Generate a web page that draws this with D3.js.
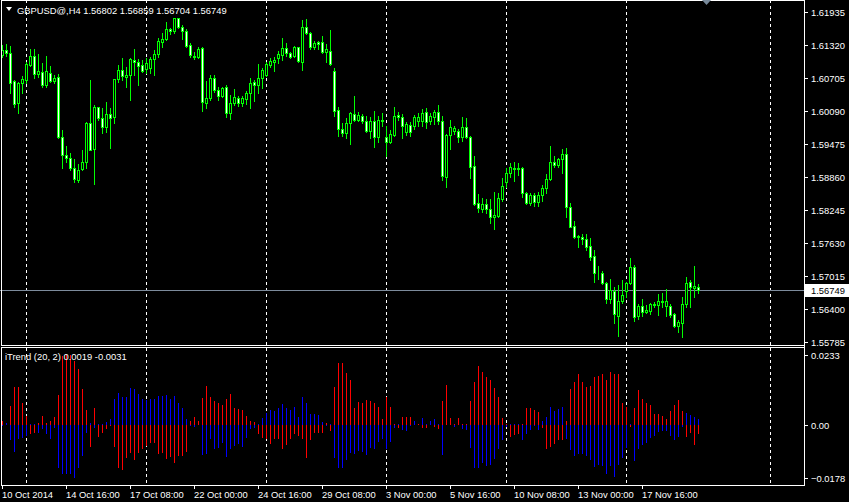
<!DOCTYPE html>
<html><head><meta charset="utf-8">
<script src="https://cdn.jsdelivr.net/npm/d3@7"></script>
<style>
body{margin:0;background:#000;}
svg{display:block;}
text{font-family:"Liberation Sans",Arial,sans-serif;font-size:9.4px;fill:#fff;}
</style>
</head><body><svg id="c" width="849" height="502"></svg>
<script>
// ---- data: GBPUSD H4 candles (bar 0 = 10 Oct 2014 00:00) ----
const openP=[1.61134,1.61227,1.61177,1.60649,1.60233,1.60606,1.60668,1.60947,1.61115,1.60780,
1.60823,1.60575,1.60792,1.60656,1.60718,1.59612,1.59271,1.59209,1.59022,1.58805,
1.59004,1.59146,1.59861,1.59376,1.60159,1.59954,1.59786,1.60035,1.59972,1.60687,
1.60854,1.60730,1.60755,1.61041,1.61009,1.60947,1.60867,1.60885,1.61053,1.61146,
1.61382,1.61426,1.61612,1.61587,1.61817,1.61649,1.61587,1.61320,1.61115,1.61103,
1.61258,1.60246,1.60326,1.60699,1.60482,1.60376,1.60531,1.60047,1.60233,1.60333,
1.60240,1.60314,1.60420,1.60631,1.60581,1.60699,1.60768,1.60954,1.61010,1.61072,
1.61140,1.61264,1.61165,1.61122,1.61277,1.60998,1.61650,1.61544,1.61277,1.61370,
1.61370,1.61184,1.61215,1.60842,1.60110,1.59756,1.59675,1.59861,1.60035,1.59923,
1.59998,1.59898,1.59725,1.59898,1.59613,1.59923,1.59600,1.59520,1.59650,1.60023,
1.59973,1.59693,1.59830,1.59818,1.59898,1.59911,1.60066,1.59898,1.59985,1.60066,
1.59898,1.58868,1.59650,1.59725,1.59712,1.59600,1.59799,1.59613,1.59066,1.58370,
1.58265,1.58351,1.58265,1.58109,1.58134,1.58445,1.58774,1.58929,1.59028,1.59016,
1.59022,1.58569,1.58370,1.58525,1.58401,1.58525,1.58650,1.58817,1.59146,1.59084,
1.59190,1.59289,1.58308,1.57948,1.57761,1.57749,1.57699,1.57575,1.57389,1.57066,
1.57078,1.56892,1.56582,1.56743,1.56271,1.56557,1.56743,1.56892,1.57190,1.56271,
1.56457,1.56352,1.56370,1.56470,1.56482,1.56544,1.56464,1.56457,1.56308,1.56091,
1.56147,1.56488,1.56898,1.56787,1.56802];
const highP=[1.61320,1.61339,1.61301,1.60668,1.60637,1.60742,1.61009,1.61239,1.61239,1.61152,
1.60978,1.61115,1.60929,1.60761,1.60780,1.59736,1.59438,1.59314,1.59190,1.59103,
1.59364,1.59892,1.60668,1.60202,1.60171,1.60140,1.60252,1.60153,1.60693,1.60947,
1.61072,1.60916,1.61072,1.61239,1.61053,1.61041,1.61072,1.61103,1.61227,1.61444,
1.61550,1.61755,1.61630,1.61817,1.61817,1.61693,1.61612,1.61363,1.61196,1.61276,
1.61276,1.60649,1.60761,1.60761,1.60544,1.60544,1.60575,1.60388,1.60494,1.60377,
1.60377,1.60457,1.60706,1.60668,1.60966,1.60886,1.61010,1.61078,1.61103,1.61203,
1.61451,1.61351,1.61184,1.61308,1.61289,1.61786,1.61805,1.61556,1.61401,1.61389,
1.61494,1.61339,1.61600,1.60892,1.60159,1.59861,1.59960,1.60066,1.60377,1.60066,
1.60035,1.60004,1.59985,1.60085,1.60004,1.60047,1.59818,1.59737,1.60159,1.60066,
1.60035,1.59880,1.59880,1.60023,1.60047,1.60128,1.60147,1.60047,1.60110,1.60209,
1.60004,1.59662,1.59923,1.59818,1.59756,1.59985,1.59960,1.59631,1.59252,1.58544,
1.58463,1.58445,1.58445,1.58587,1.58556,1.58836,1.59022,1.59115,1.59146,1.59128,
1.59041,1.58587,1.58556,1.58556,1.58587,1.58712,1.58917,1.59438,1.59252,1.59208,
1.59376,1.59395,1.58370,1.58047,1.57780,1.57799,1.57799,1.57718,1.57501,1.57203,
1.57116,1.56911,1.56954,1.56818,1.56849,1.56942,1.56911,1.57345,1.57221,1.56495,
1.56582,1.56476,1.56507,1.56538,1.56681,1.56706,1.56768,1.56495,1.56321,1.56197,
1.56631,1.57004,1.56942,1.57203,1.56859];
const lowP=[1.61103,1.61115,1.60420,1.60171,1.60059,1.60432,1.60606,1.60929,1.60699,1.60730,
1.60544,1.60544,1.60637,1.60618,1.59581,1.59022,1.59146,1.58991,1.58774,1.58761,
1.58991,1.59022,1.59364,1.58730,1.59923,1.59674,1.59705,1.59395,1.59861,1.60637,
1.60668,1.60544,1.60295,1.60761,1.60575,1.60823,1.60792,1.60792,1.60761,1.61103,
1.61289,1.61413,1.61525,1.61537,1.61630,1.61426,1.61276,1.61103,1.61053,1.61072,
1.60097,1.60140,1.60295,1.60451,1.60295,1.60345,1.59985,1.59935,1.60202,1.60190,
1.60178,1.60221,1.60147,1.60271,1.60426,1.60519,1.60737,1.60904,1.60842,1.60979,
1.61041,1.61122,1.61072,1.61103,1.60998,1.60861,1.61525,1.61246,1.61246,1.61246,
1.61171,1.61010,1.60954,1.60004,1.59631,1.59631,1.59588,1.59476,1.59898,1.59898,
1.59861,1.59693,1.59588,1.59426,1.59520,1.59818,1.59259,1.59489,1.59631,1.59923,
1.59588,1.59650,1.59631,1.59756,1.59818,1.59818,1.59774,1.59849,1.59849,1.59849,
1.58805,1.58669,1.59383,1.59662,1.59507,1.59538,1.59588,1.58843,1.58339,1.58215,
1.58215,1.58196,1.57998,1.57886,1.58109,1.58420,1.58681,1.58867,1.58792,1.58898,
1.58494,1.58358,1.58339,1.58320,1.58320,1.58420,1.58556,1.58805,1.59041,1.59041,
1.58941,1.58109,1.57923,1.57718,1.57563,1.57612,1.57501,1.57314,1.56911,1.56954,
1.56867,1.56520,1.56507,1.56147,1.55899,1.56507,1.56631,1.56867,1.56184,1.56209,
1.56271,1.56333,1.56308,1.56445,1.56296,1.56445,1.56271,1.56259,1.56072,1.55979,
1.55886,1.56445,1.56445,1.56631,1.56704];
const closeP=[1.61227,1.61177,1.60618,1.60215,1.60618,1.60687,1.60966,1.61115,1.60774,1.60836,
1.60575,1.60842,1.60656,1.60699,1.59612,1.59271,1.59209,1.59022,1.58817,1.58991,
1.59146,1.59861,1.59364,1.60171,1.59954,1.59786,1.60028,1.59954,1.60680,1.60854,
1.60742,1.60761,1.61053,1.60997,1.60929,1.60842,1.60991,1.61053,1.61146,1.61394,
1.61426,1.61612,1.61587,1.61817,1.61649,1.61587,1.61308,1.61134,1.61090,1.61252,
1.60264,1.60326,1.60711,1.60482,1.60376,1.60513,1.60047,1.60233,1.60345,1.60234,
1.60333,1.60426,1.60613,1.60581,1.60706,1.60861,1.60966,1.61016,1.61041,1.61153,
1.61264,1.61165,1.61091,1.61289,1.61016,1.61650,1.61544,1.61277,1.61358,1.61339,
1.61184,1.61246,1.60966,1.60097,1.59756,1.59675,1.59861,1.60047,1.59923,1.60010,
1.59898,1.59725,1.59898,1.59600,1.59923,1.59911,1.59520,1.59662,1.60004,1.59973,
1.59818,1.59849,1.59693,1.59973,1.59985,1.60060,1.59880,1.59998,1.60066,1.59898,
1.58886,1.59650,1.59787,1.59768,1.59600,1.59799,1.59613,1.59054,1.58358,1.58277,
1.58351,1.58265,1.58109,1.58147,1.58463,1.58693,1.58929,1.59041,1.59016,1.59028,
1.58569,1.58383,1.58525,1.58401,1.58525,1.58650,1.58817,1.59146,1.59084,1.59190,
1.59289,1.58308,1.57935,1.57749,1.57737,1.57699,1.57563,1.57377,1.57066,1.57078,
1.56892,1.56582,1.56756,1.56302,1.56557,1.56662,1.56892,1.57190,1.56259,1.56457,
1.56352,1.56383,1.56488,1.56495,1.56544,1.56532,1.56544,1.56290,1.56091,1.56166,
1.56488,1.56892,1.56818,1.56830,1.56749];
// iTrend (20,2) histogram buffers
const trendBlue=[-0.0003,0.0007,-0.0052,-0.0091,-0.0047,-0.0046,-0.0038,0.0002,0.0001,-0.0027,
-0.0013,-0.0032,-0.0047,-0.0010,-0.0144,-0.0166,-0.0164,-0.0164,-0.0178,-0.0144,
-0.0105,-0.0027,0.0005,-0.0010,0.0003,0.0003,0.0009,0.0018,0.0085,0.0107,
0.0092,0.0092,0.0124,0.0118,0.0104,0.0085,0.0081,0.0087,0.0087,0.0096,
0.0096,0.0099,0.0085,0.0096,0.0074,0.0057,0.0018,-0.0005,-0.0007,-0.0001,
-0.0102,-0.0099,-0.0049,-0.0080,-0.0077,-0.0060,-0.0108,-0.0080,-0.0071,-0.0066,
-0.0074,-0.0043,-0.0013,-0.0010,0.0003,0.0023,0.0040,0.0048,0.0046,0.0057,
0.0068,0.0055,0.0048,0.0059,0.0026,0.0094,0.0074,0.0035,0.0035,0.0031,
0.0009,-0.0003,0.0002,-0.0110,-0.0144,-0.0144,-0.0118,-0.0094,-0.0097,-0.0088,
-0.0090,-0.0101,-0.0077,-0.0080,-0.0058,-0.0047,-0.0080,-0.0058,-0.0010,0.0002,
-0.0018,-0.0021,-0.0003,0.0012,-0.0002,0.0021,0.0002,0.0012,0.0020,0.0002,
-0.0102,-0.0001,-0.0001,-0.0007,-0.0001,-0.0013,-0.0018,-0.0077,-0.0144,-0.0144,
-0.0127,-0.0138,-0.0136,-0.0116,-0.0080,-0.0051,-0.0007,0.0001,0.0001,0.0004,
-0.0051,-0.0032,-0.0018,-0.0003,-0.0018,0.0014,0.0027,0.0059,0.0046,0.0053,
0.0059,-0.0047,-0.0086,-0.0105,-0.0099,-0.0099,-0.0105,-0.0118,-0.0140,-0.0133,
-0.0138,-0.0166,-0.0138,-0.0175,-0.0136,-0.0112,-0.0077,0.0001,-0.0121,-0.0082,
-0.0069,-0.0062,-0.0043,-0.0038,-0.0025,-0.0021,-0.0021,-0.0036,-0.0051,-0.0040,
-0.0007,0.0038,0.0031,0.0026,0.0019];
const trendRed=[0.0014,-0.0002,0.0062,0.0126,0.0127,0.0074,0.0029,-0.0032,-0.0027,0.0007,
0.0029,0.0007,0.0012,0.0026,0.0098,0.0230,0.0233,0.0232,0.0213,0.0185,
0.0118,0.0049,-0.0074,0.0057,-0.0041,-0.0027,-0.0013,-0.0003,-0.0074,-0.0144,
-0.0151,-0.0110,-0.0094,-0.0118,-0.0094,-0.0082,-0.0071,-0.0062,-0.0060,-0.0099,
-0.0094,-0.0116,-0.0107,-0.0127,-0.0105,-0.0105,-0.0090,0.0012,0.0027,0.0014,
0.0090,0.0131,0.0092,0.0079,0.0074,0.0066,0.0085,0.0104,0.0057,0.0051,
0.0048,0.0029,0.0014,0.0009,-0.0032,-0.0046,-0.0047,-0.0066,-0.0049,-0.0049,
-0.0082,-0.0069,-0.0049,-0.0032,-0.0038,-0.0049,-0.0112,-0.0051,-0.0027,-0.0027,
-0.0027,0.0007,-0.0021,0.0126,0.0205,0.0205,0.0174,0.0151,0.0055,0.0076,
0.0074,0.0081,0.0079,0.0074,0.0059,0.0018,0.0092,0.0059,0.0002,-0.0012,
0.0026,0.0026,0.0026,-0.0002,0.0003,-0.0010,-0.0010,-0.0002,-0.0007,-0.0013,
0.0079,0.0133,0.0021,0.0001,0.0021,0.0001,0.0001,0.0079,0.0144,0.0196,
0.0177,0.0160,0.0148,0.0124,0.0094,0.0021,0.0001,-0.0041,-0.0035,-0.0032,
0.0004,0.0055,0.0055,0.0048,0.0042,-0.0010,-0.0080,-0.0074,-0.0066,-0.0051,
-0.0051,0.0012,0.0118,0.0144,0.0168,0.0144,0.0126,0.0129,0.0160,0.0163,
0.0170,0.0149,0.0176,0.0170,0.0168,0.0074,0.0060,-0.0008,0.0055,0.0115,
0.0085,0.0074,0.0066,0.0035,0.0035,0.0029,0.0018,0.0046,0.0065,0.0081,
0.0046,-0.0040,-0.0027,-0.0068,-0.0031];
const priceTicks=[1.61935,1.61320,1.60705,1.60090,1.59475,1.58860,1.58245,1.57630,1.57015,1.56400,1.55785];
const trendTicks=[0.0233,0.00,-0.0178];
const timeLabelBars=[0,16,32,48,64,80,96,112,128,144,160];
const timeLabels=["10 Oct 2014","14 Oct 16:00","17 Oct 08:00","22 Oct 00:00","24 Oct 16:00","29 Oct 08:00","3 Nov 00:00","5 Nov 16:00","10 Nov 08:00","13 Nov 00:00","17 Nov 16:00"];
const gridBars=[6,36,66,96,126,156,192];
const shiftBar=176;
const symbolTitle="GBPUSD@,H4";
const indTitle="iTrend (20, 2) 0.0019 -0.0031";

// ---- drawing ----
const svg=d3.select("#c");
const W=849,H=502, axisX=804;
const n=openP.length;
const x=d3.scaleLinear().domain([0,1]).range([2,6]);
const y=d3.scaleLinear().domain([1.55785,1.61935]).range([342,12]);
const yi=d3.scaleLinear().domain([-0.0178,0.0233]).range([478,355]);
const mainTop=0, mainBot=345, subTop=347, subBot=485;
const LIME="#00ff00";

svg.append("rect").attr("width",W).attr("height",H).attr("fill","#000");

// grid (dashed verticals)
const g=svg.append("g").attr("shape-rendering","crispEdges");
gridBars.forEach(b=>{
  g.append("line").attr("x1",x(b)+0.5).attr("x2",x(b)+0.5).attr("y1",mainTop).attr("y2",subBot)
   .attr("stroke","#fff").attr("stroke-dasharray","3,3");
});

// current price line
const last=closeP[n-1];
g.append("line").attr("x1",0).attr("x2",axisX).attr("y1",Math.round(y(last))+0.5).attr("y2",Math.round(y(last))+0.5)
 .attr("stroke","#7d8b9c");

// candles
const cg=svg.append("g").attr("shape-rendering","crispEdges");
for(let i=0;i<n;i++){
  const cx=x(i);
  cg.append("line").attr("x1",cx+0.5).attr("x2",cx+0.5)
    .attr("y1",Math.round(y(highP[i]))).attr("y2",Math.round(y(lowP[i]))+1).attr("stroke",LIME);
  const yo=Math.round(y(openP[i])), yc=Math.round(y(closeP[i]));
  const top=Math.min(yo,yc), h=Math.abs(yo-yc);
  const bull=closeP[i]>openP[i];
  cg.append("rect").attr("x",cx-0.5).attr("y",top+0.5).attr("width",2).attr("height",Math.max(h,0))
    .attr("fill",bull?"#000":"#fff").attr("stroke",LIME).attr("stroke-width",1);
}

// indicator histograms
const ig=svg.append("g").attr("shape-rendering","crispEdges");
const z=yi(0);
function hist(arr,color){
  arr.forEach((v,i)=>{
    const yy=yi(v);
    ig.append("rect").attr("x",x(i)).attr("width",1)
      .attr("y",Math.min(yy,z)).attr("height",Math.abs(yy-z)).attr("fill",color);
  });
}
hist(trendRed,"#ff0000");
hist(trendBlue,"#0000ff");

// frames
const fg=svg.append("g").attr("shape-rendering","crispEdges").attr("stroke","#fff").attr("fill","none");
fg.append("path").attr("d",`M1.5,${mainTop+0.5}H${axisX+0.5}V${subBot+0.5}`);
fg.append("line").attr("x1",1.5).attr("x2",1.5).attr("y1",mainTop).attr("y2",mainBot+0.5);
fg.append("line").attr("x1",1.5).attr("x2",axisX).attr("y1",mainBot+0.5).attr("y2",mainBot+0.5);
fg.append("line").attr("x1",1.5).attr("x2",axisX).attr("y1",subTop+0.5).attr("y2",subTop+0.5);
fg.append("line").attr("x1",1.5).attr("x2",1.5).attr("y1",subTop).attr("y2",subBot+0.5);
fg.append("line").attr("x1",1.5).attr("x2",axisX).attr("y1",subBot+0.5).attr("y2",subBot+0.5);

// price axis
const ax=svg.append("g");
priceTicks.forEach(p=>{
  const yy=Math.round(y(p));
  ax.append("line").attr("x1",axisX+1).attr("x2",axisX+4).attr("y1",yy+0.5).attr("y2",yy+0.5).attr("stroke","#fff").attr("shape-rendering","crispEdges");
  ax.append("text").attr("x",axisX+7).attr("y",yy+3.5).text(d3.format(".5f")(p));
});
// current price box
const ly=Math.round(y(last));
ax.append("rect").attr("x",axisX+1).attr("y",ly-6).attr("width",W-axisX-1).attr("height",13).attr("fill","#fff");
ax.append("text").attr("x",axisX+7).attr("y",ly+4).style("fill","#000").text(d3.format(".5f")(last));

// indicator axis
trendTicks.forEach(v=>{
  const yy=Math.round(yi(v));
  ax.append("line").attr("x1",axisX+1).attr("x2",axisX+4).attr("y1",yy+0.5).attr("y2",yy+0.5).attr("stroke","#fff").attr("shape-rendering","crispEdges");
  ax.append("text").attr("x",axisX+7).attr("y",yy+3.5).text(v===0?"0.00":d3.format(".4f")(v));
});

// time axis
timeLabelBars.forEach((b,k)=>{
  const tx=x(b);
  ax.append("line").attr("x1",tx+0.5).attr("x2",tx+0.5).attr("y1",subBot).attr("y2",subBot+4).attr("stroke","#fff").attr("shape-rendering","crispEdges");
  ax.append("text").attr("x",tx).attr("y",498).text(timeLabels[k]);
});

// titles
ax.append("path").attr("d","M6,7L12,7L9,11Z").attr("fill","#fff");
ax.append("text").attr("x",17).attr("y",14)
  .text(symbolTitle+"  "+[openP[n-1],highP[n-1],lowP[n-1],closeP[n-1]].map(d3.format(".5f")).join(" "));
ax.append("text").attr("x",5).attr("y",360).text(indTitle);

// chart shift marker
const sx=x(shiftBar);
ax.append("path").attr("d",`M${sx-4},0L${sx+5},0L${sx+0.5},5Z`).attr("fill","#778899");
</script>
</body></html>
